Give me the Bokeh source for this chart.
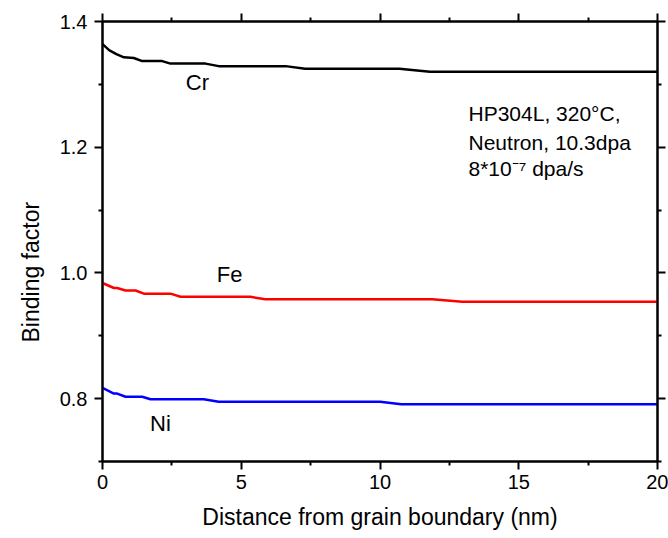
from bokeh.plotting import figure
from bokeh.models import FixedTicker, LinearAxis, Range1d, Title, PrintfTickFormatter
from bokeh.core.properties import value
from bokeh.embed import file_html
from bokeh.resources import INLINE

# ---- data ----
cr_x = [0, 0.25, 0.5, 0.77, 1.13, 1.43, 2.15, 2.45, 3.71, 4.19, 6.6, 7.3, 10.7, 11.8, 20]
cr_y = [1.364, 1.354, 1.348, 1.343, 1.342, 1.337, 1.337, 1.333, 1.333, 1.329, 1.329, 1.325, 1.325, 1.320, 1.320]

fe_x = [0, 0.41, 0.53, 0.83, 1.19, 1.49, 2.45, 2.81, 5.33, 5.87, 11.88, 12.96, 20]
fe_y = [0.984, 0.976, 0.976, 0.972, 0.972, 0.967, 0.967, 0.962, 0.962, 0.958, 0.958, 0.954, 0.954]

ni_x = [0, 0.41, 0.53, 0.83, 1.43, 1.73, 3.65, 4.19, 10.0, 10.77, 20]
ni_y = [0.817, 0.808, 0.808, 0.803, 0.803, 0.799, 0.799, 0.795, 0.795, 0.791, 0.791]

series_names = ["Cr", "Fe", "Ni"]
series_colors = ["black", "#ff0000", "#0000ff"]

x_ticks = [0, 5, 10, 15, 20]
x_minor = [2.5, 7.5, 12.5, 17.5]
y_ticks = [0.8, 1.0, 1.2, 1.4]
y_minor = [0.7, 0.9, 1.1, 1.3]

x_title = "Distance from grain boundary (nm)"
y_title = "Binding factor"
note_lines = ["HP304L, 320\u00b0C,", "Neutron, 10.3dpa", "8*10\u207b\u2077 dpa/s"]

FONT = "Liberation Sans"

p = figure(frame_width=555, frame_height=440,
           min_border_left=102, min_border_right=11,
           min_border_top=21, min_border_bottom=77,
           x_range=Range1d(0, 20), y_range=Range1d(0.7, 1.4),
           output_backend="svg", toolbar_location=None,
           x_axis_location=None, y_axis_location=None)
p.grid.visible = False
p.outline_line_color = "black"
p.outline_line_width = 2
p.background_fill_color = "white"
p.border_fill_color = "white"


def style_axis(ax, ticks, minor, show_labels):
    ax.ticker = FixedTicker(ticks=ticks, minor_ticks=minor)
    ax.axis_line_color = "black"
    ax.axis_line_width = 2
    ax.major_tick_line_color = "black"
    ax.major_tick_line_width = 2
    ax.minor_tick_line_color = "black"
    ax.minor_tick_line_width = 2
    ax.major_tick_out = 8
    ax.major_tick_in = 0
    ax.minor_tick_out = 4
    ax.minor_tick_in = 0
    ax.major_label_text_font = FONT
    ax.major_label_text_font_size = "20px"
    ax.major_label_text_color = "black"
    if not show_labels:
        ax.major_label_text_font_size = "0px"
        ax.major_label_text_alpha = 0


xb = LinearAxis()
style_axis(xb, x_ticks, x_minor, True)
xb.major_label_standoff = 5
xb.axis_label = x_title
xb.axis_label_text_font = FONT
xb.axis_label_text_font_size = "23px"
xb.axis_label_text_font_style = "normal"
xb.axis_label_text_color = "black"
xb.axis_label_standoff = 12
p.add_layout(xb, "below")

xt = LinearAxis()
style_axis(xt, x_ticks, x_minor, False)
p.add_layout(xt, "above")

yl = LinearAxis()
style_axis(yl, y_ticks, y_minor, True)
yl.major_label_standoff = 7
yl.formatter = PrintfTickFormatter(format="%.1f")
p.add_layout(yl, "left")

yr = LinearAxis()
style_axis(yr, y_ticks, y_minor, False)
p.add_layout(yr, "right")

# y-axis title, placed outside the left axis and shifted down like the reference
p.add_layout(Title(text=y_title, align="left", offset=119,
                   text_font=FONT, text_font_size="23px",
                   text_font_style="normal", text_color="black",
                   standoff=26), "left")

for xs, ys, c in zip([cr_x, fe_x, ni_x], [cr_y, fe_y, ni_y], series_colors):
    p.line(xs, ys, line_color=c, line_width=2.5)

# curve labels
lab_x = [3.42, 4.58, 2.09]
lab_y = [1.3025, 0.997, 0.7604]
p.text(x=lab_x, y=lab_y, text=series_names, text_font=value(FONT),
       text_font_size="22px", text_align="center", text_baseline="middle",
       text_color="black")

# annotation
note_y = [1.253, 1.207, 1.166]
p.text(x=[13.19] * 3, y=note_y, text=note_lines, text_font=value(FONT),
       text_font_size="21px", text_align="left", text_baseline="middle",
       text_color="black")

open("out.html", "w").write(file_html(p, INLINE))
